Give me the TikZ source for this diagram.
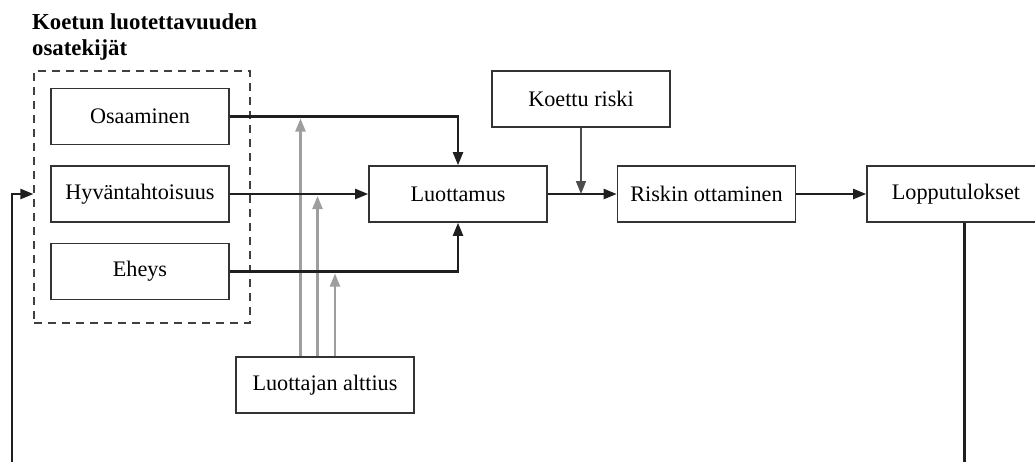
\documentclass[tikz,border=0pt]{standalone}
\usepackage{fontspec}
\setmainfont{Liberation Serif}
\usetikzlibrary{arrows.meta}
\begin{document}
\begin{tikzpicture}[x=1pt,y=-1pt,
  box/.style={draw=black!80, line width=1.6pt, fill=white, minimum width=178pt, minimum height=56pt, inner sep=0pt, font=\fontsize{22.2}{26}\selectfont},
  conn/.style={draw=black!88, line width=2.2pt, -{Triangle[length=13pt,width=10pt]}},
  plainline/.style={draw=black!88, line width=2.2pt},
  darkconn/.style={draw=black!70, line width=1.7pt, -{Triangle[length=13pt,width=10pt]}},
  grayconn/.style={draw=black!38, line width=2.2pt, -{Triangle[length=13pt,width=10pt]}},
  groupbox/.style={draw=black!75, line width=1.1pt, dash pattern=on 8pt off 6pt, minimum width=216pt, minimum height=252pt, inner sep=0pt},
  titletext/.style={font=\fontsize{22.8}{26.5}\selectfont\bfseries, align=left, inner sep=0pt, anchor=north west}
]
\useasboundingbox (0,0) rectangle (1035,461);
\clip (0,0) rectangle (1035,461);

\node[titletext] (title) at (32,13) {Koetun luotettavuuden\\osatekijät};
\node[groupbox] (grp) at (142,197) {};

\node[box] (osa) at (140,116.5) {Osaaminen};
\node[box] (hyv) at (140,194) {Hyväntahtoisuus};
\node[box] (ehe) at (140,271.5) {Eheys};
\node[box] (luo) at (458,194) {Luottamus};
\node[box] (koe) at (581,99) {Koettu riski};
\node[box] (ris) at (706.5,194) {Riskin ottaminen};
\node[box] (lop) at (956,194) {Lopputulokset};
\node[box] (alt) at (325,385) {Luottajan alttius};

% gray influences of Luottajan alttius
\coordinate (g1) at (300.5,118.5);
\coordinate (g2) at (317.5,196);
\coordinate (g3) at (335,273.5);
\draw[grayconn] (alt.north -| g1) -- (g1);
\draw[grayconn] (alt.north -| g2) -- (g2);
\draw[grayconn] (alt.north -| g3) -- (g3);

% main flow
\draw[conn] (osa.east) -| (luo.north);
\draw[conn] (hyv.east) -- (luo.west);
\draw[conn] (ehe.east) -| (luo.south);
\draw[conn] (luo.east) -- (ris.west);
\draw[conn] (ris.east) -- (lop.west);
\draw[darkconn] (koe.south) -- (koe.south |- luo.east);

% feedback loop
\coordinate (lb) at (964.5,470);
\coordinate (ll) at (12,470);
\draw[plainline] (lop.south -| lb) -- (lb);
\draw[conn] (ll) |- (grp.west |- hyv.west);
\end{tikzpicture}
\end{document}
